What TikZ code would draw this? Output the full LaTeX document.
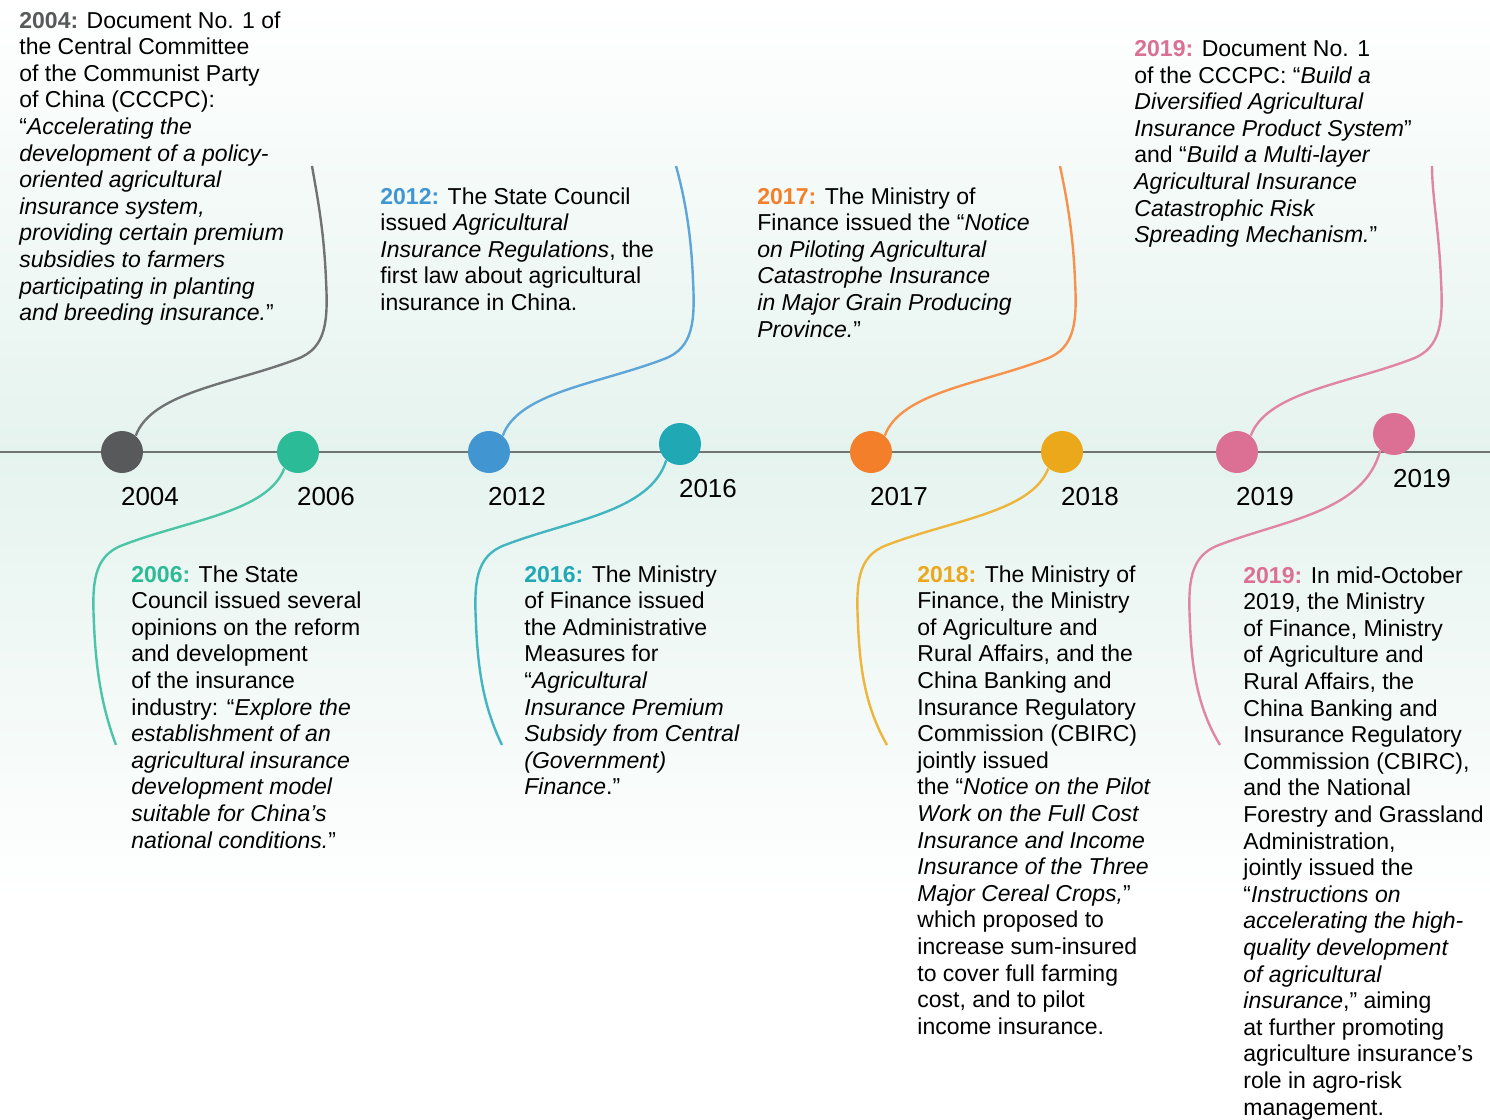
\documentclass[tikz,border=0pt]{standalone}
\usepackage{fontspec}
\setmainfont{Liberation Sans}
\usepackage{xcolor}

\begin{document}
\begin{tikzpicture}[x=0.5pt,y=-0.5pt,
  dot/.style={circle,minimum size=21pt,inner sep=0pt},
  yearlab/.style={inner sep=0pt,font=\fontsize{13}{15}\selectfont},
  note/.style={anchor=north west,align=left,inner sep=0pt,font=\fontsize{11.5}{13.3}\selectfont},
  link/.style={line width=1.2pt}]
\definecolor{mint}{HTML}{E5F3EE}
\definecolor{linegray}{HTML}{6E7572}
\definecolor{cgray}{HTML}{58595B}
\definecolor{cgreen}{HTML}{2BBB96}
\definecolor{cblue}{HTML}{4196D1}
\definecolor{cteal}{HTML}{21A8B5}
\definecolor{corange}{HTML}{F47F2B}
\definecolor{cyellow}{HTML}{EAA81A}
\definecolor{cpink}{HTML}{DB7094}
\useasboundingbox (0,0) rectangle (1490,1120);
\fill[top color=white,bottom color=mint] (0,0) rectangle (1490,452);
\fill[top color=mint,bottom color=white] (0,452) rectangle (1490,900);

% the time line
\coordinate (tl-start) at (0,452);
\coordinate (tl-end) at (1490,452);
\draw[line width=1.2pt,linegray] (tl-start) -- (tl-end);

\foreach \name/\yr/\crlr/\xpos/\ypos in {2004/2004/cgray/122/452,2006/2006/cgreen/298/452,2012/2012/cblue/489/452,2016/2016/cteal/680/444,2017/2017/corange/871/452,2018/2018/cyellow/1062/452,2019a/2019/cpink/1237/452,2019b/2019/cpink/1394/434}
  {  \node [dot,fill=\crlr] (d\name) at (\xpos,\ypos) {};
     \node [yearlab] (l\name) at (\xpos+28,\ypos+45) {\yr};}

% curves up to the notes above
\foreach \name/\crlr/\xpos/\xend in {2004/cgray/122/312,2012/cblue/489/676,2017/corange/871/1060,2019a/cpink/1237/1432}
  {  \coordinate (e\name) at (\xend,166);
     \draw[link,\crlr!85] (d\name.50) .. controls (\xpos+30,392) and (\xpos+110,384) .. (\xpos+175,359)
       .. controls (\xpos+205,348) and (\xpos+206,320) .. (\xpos+204,280)
       .. controls (\xpos+202,230) and (\xpos+195,195) .. (e\name);}

% curves down to the notes below
\foreach \name/\crlr/\xpos/\xend in {2006/cgreen/298/116,2016/cteal/680/502,2018/cyellow/1062/887,2019b/cpink/1394/1220}
  {  \coordinate (e\name) at (\xend,745);
     \draw[link,\crlr!85] (d\name.230) .. controls (\xpos-30,512) and (\xpos-110,520) .. (\xpos-175,545)
       .. controls (\xpos-205,556) and (\xpos-206,584) .. (\xpos-204,624)
       .. controls (\xpos-202,674) and (\xpos-195,710) .. (e\name);}

% notes
\node[note] (t2004) at (19,11) {\textbf{\color{cgray}2004:} Document No. 1 of\\
the Central Committee\\
of the Communist Party\\
of China (CCCPC):\\
“\textit{Accelerating the}\\
\textit{development of a policy-}\\
\textit{oriented agricultural}\\
\textit{insurance system,}\\
\textit{providing certain premium}\\
\textit{subsidies to farmers}\\
\textit{participating in planting}\\
\textit{and breeding insurance.}”};

\node[note] (t2012) at (380,187) {\textbf{\color{cblue}2012:} The State Council\\
issued \textit{Agricultural}\\
\textit{Insurance Regulations}, the\\
first law about agricultural\\
insurance in China.};

\node[note] (t2017) at (757,187) {\textbf{\color{corange}2017:} The Ministry of\\
Finance issued the “\textit{Notice}\\
\textit{on Piloting Agricultural}\\
\textit{Catastrophe Insurance}\\
\textit{in Major Grain Producing}\\
\textit{Province.}”};

\node[note] (t2019a) at (1134,40) {\textbf{\color{cpink}2019:} Document No. 1\\
of the CCCPC: “\textit{Build a}\\
\textit{Diversified Agricultural}\\
\textit{Insurance Product System}”\\
and “\textit{Build a Multi-layer}\\
\textit{Agricultural Insurance}\\
\textit{Catastrophic Risk}\\
\textit{Spreading Mechanism.}”};

\node[note] (t2006) at (131,565) {\textbf{\color{cgreen}2006:} The State\\
Council issued several\\
opinions on the reform\\
and development\\
of the insurance\\
industry: “\textit{Explore the}\\
\textit{establishment of an}\\
\textit{agricultural insurance}\\
\textit{development model}\\
\textit{suitable for China’s}\\
\textit{national conditions.}”};

\node[note] (t2016) at (524,565) {\textbf{\color{cteal}2016:} The Ministry\\
of Finance issued\\
the Administrative\\
Measures for\\
“\textit{Agricultural}\\
\textit{Insurance Premium}\\
\textit{Subsidy from Central}\\
\textit{(Government)}\\
\textit{Finance}.”};

\node[note] (t2018) at (917,565) {\textbf{\color{cyellow}2018:} The Ministry of\\
Finance, the Ministry\\
of Agriculture and\\
Rural Affairs, and the\\
China Banking and\\
Insurance Regulatory\\
Commission (CBIRC)\\
jointly issued\\
the “\textit{Notice on the Pilot}\\
\textit{Work on the Full Cost}\\
\textit{Insurance and Income}\\
\textit{Insurance of the Three}\\
\textit{Major Cereal Crops,}”\\
which proposed to\\
increase sum-insured\\
to cover full farming\\
cost, and to pilot\\
income insurance.};

\node[note] (t2019b) at (1243,566) {\textbf{\color{cpink}2019:} In mid-October\\
2019, the Ministry\\
of Finance, Ministry\\
of Agriculture and\\
Rural Affairs, the\\
China Banking and\\
Insurance Regulatory\\
Commission (CBIRC),\\
and the National\\
Forestry and Grassland\\
Administration,\\
jointly issued the\\
“\textit{Instructions on}\\
\textit{accelerating the high-}\\
\textit{quality development}\\
\textit{of agricultural}\\
\textit{insurance},” aiming\\
at further promoting\\
agriculture insurance’s\\
role in agro-risk\\
management.};
\end{tikzpicture}
\end{document}
